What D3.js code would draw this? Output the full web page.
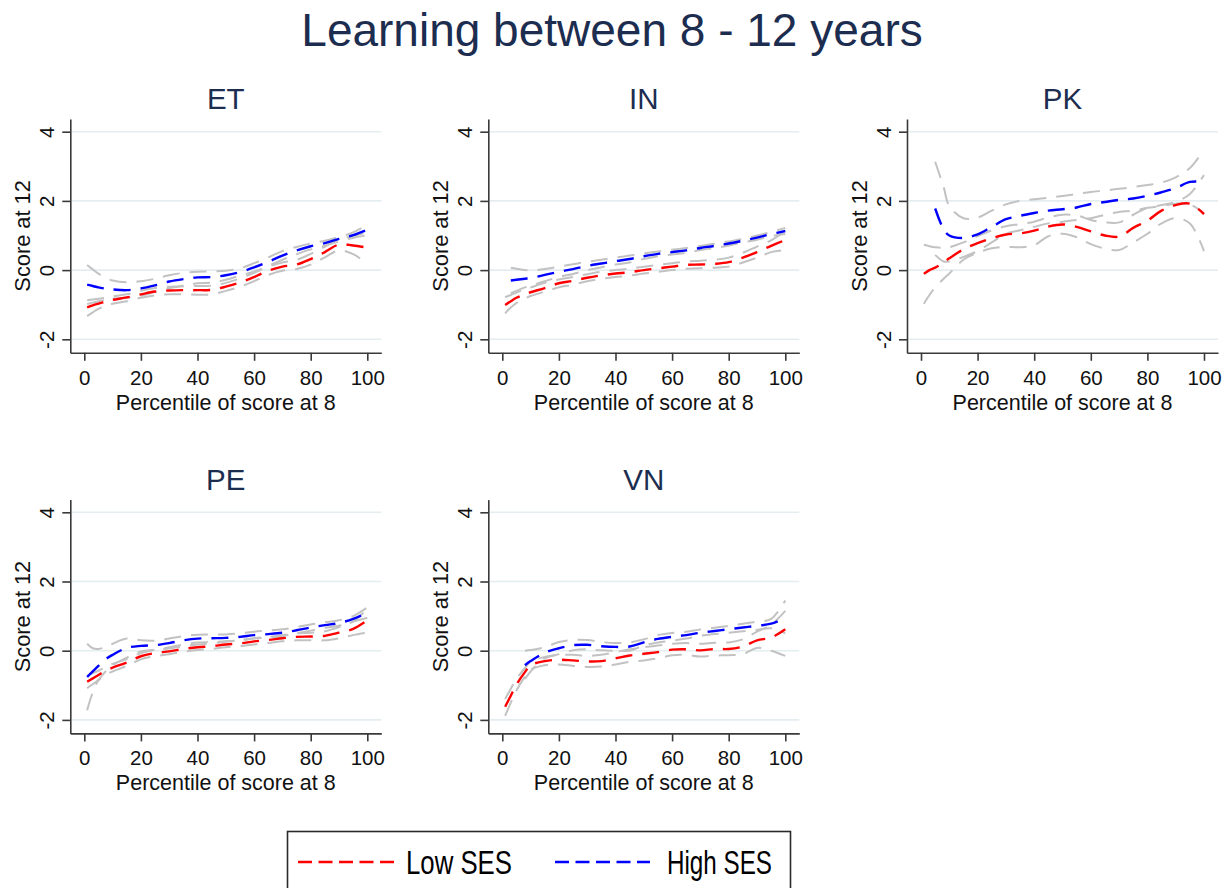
<!DOCTYPE html>
<html>
<head>
<meta charset="utf-8">
<script src="https://cdn.jsdelivr.net/npm/d3@7"></script>
<style>
  body { margin: 0; background: #fff; }
  svg { display: block; }
</style>
</head>
<body>
<svg id="chart" width="1231" height="888"></svg>
<script>
// Percentile of score at age 8 at which each fitted curve is evaluated
const percentiles = [1, 3, 5, 8, 10, 15, 20, 25, 30, 35, 40, 45, 50, 55, 60, 65, 70, 75, 80, 85, 90, 95, 100];

// Ethiopia
const etHigh   = [-0.42, -0.46, -0.50, -0.54, -0.56, -0.58, -0.53, -0.44, -0.33, -0.26, -0.21, -0.20, -0.15, -0.06, 0.08, 0.24, 0.42, 0.57, 0.69, 0.78, 0.90, 1.01, 1.17];
const etHighHi = [0.15, 0.02, -0.10, -0.24, -0.30, -0.35, -0.32, -0.25, -0.15, -0.08, -0.05, -0.04, -0.02, 0.05, 0.20, 0.37, 0.55, 0.67, 0.77, 0.85, 0.96, 1.09, 1.32];
const etHighLo = [-0.98, -0.94, -0.90, -0.85, -0.82, -0.80, -0.74, -0.63, -0.52, -0.45, -0.38, -0.36, -0.28, -0.16, -0.04, 0.12, 0.30, 0.46, 0.60, 0.70, 0.83, 0.93, 1.01];
const etLow    = [-1.08, -1.02, -0.97, -0.90, -0.86, -0.79, -0.70, -0.62, -0.59, -0.58, -0.58, -0.57, -0.48, -0.36, -0.20, -0.02, 0.10, 0.16, 0.32, 0.52, 0.74, 0.71, 0.65];
const etLowHi  = [-0.87, -0.85, -0.83, -0.79, -0.76, -0.70, -0.60, -0.52, -0.48, -0.47, -0.46, -0.45, -0.37, -0.24, -0.08, 0.10, 0.22, 0.30, 0.47, 0.68, 0.90, 0.98, 1.10];
const etLowLo  = [-1.33, -1.22, -1.12, -1.02, -0.97, -0.90, -0.80, -0.73, -0.70, -0.70, -0.71, -0.70, -0.60, -0.48, -0.32, -0.14, -0.02, 0.03, 0.16, 0.37, 0.57, 0.46, 0.18];

// India
const inHigh   = [null, -0.30, -0.28, -0.25, -0.23, -0.14, -0.05, 0.03, 0.12, 0.19, 0.26, 0.32, 0.40, 0.47, 0.52, 0.57, 0.64, 0.70, 0.77, 0.85, 0.94, 1.04, 1.13];
const inHighHi = [null, 0.07, 0.04, 0.00, -0.01, 0.03, 0.10, 0.17, 0.24, 0.30, 0.36, 0.42, 0.48, 0.54, 0.59, 0.64, 0.70, 0.76, 0.83, 0.90, 1.00, 1.10, 1.22];
const inHighLo = [null, -0.67, -0.60, -0.50, -0.45, -0.32, -0.20, -0.11, 0.00, 0.08, 0.16, 0.22, 0.32, 0.40, 0.45, 0.50, 0.58, 0.64, 0.71, 0.80, 0.88, 0.98, 1.04];
const inLow    = [-1.01, -0.90, -0.80, -0.70, -0.64, -0.52, -0.38, -0.31, -0.22, -0.15, -0.10, -0.06, 0.00, 0.05, 0.10, 0.15, 0.16, 0.18, 0.23, 0.36, 0.52, 0.70, 0.87];
const inLowHi  = [-0.78, -0.72, -0.65, -0.55, -0.50, -0.37, -0.27, -0.20, -0.12, -0.05, 0.00, 0.04, 0.10, 0.15, 0.20, 0.25, 0.27, 0.30, 0.36, 0.50, 0.68, 0.86, 1.12];
const inLowLo  = [-1.25, -1.08, -0.95, -0.82, -0.75, -0.62, -0.50, -0.42, -0.32, -0.25, -0.20, -0.16, -0.10, -0.05, 0.00, 0.04, 0.05, 0.07, 0.10, 0.22, 0.36, 0.52, 0.58];

// Pakistan
const pkHigh   = [null, null, 1.78, 1.18, 1.00, 0.93, 1.03, 1.25, 1.47, 1.57, 1.65, 1.72, 1.76, 1.81, 1.91, 1.97, 2.03, 2.07, 2.15, 2.25, 2.37, 2.55, 2.55];
const pkHighHi = [null, null, 3.13, 2.40, 1.85, 1.50, 1.52, 1.72, 1.90, 2.00, 2.05, 2.09, 2.14, 2.20, 2.26, 2.30, 2.35, 2.40, 2.46, 2.53, 2.68, 2.95, 3.48];
const pkHighLo = [null, null, 0.44, 0.25, 0.25, 0.38, 0.55, 0.80, 1.05, 1.15, 1.25, 1.35, 1.40, 1.45, 1.50, 1.60, 1.68, 1.72, 1.80, 1.85, 1.92, 1.90, 1.65];
const pkLow    = [-0.11, 0.00, 0.07, 0.22, 0.34, 0.60, 0.78, 0.92, 1.03, 1.06, 1.14, 1.26, 1.32, 1.25, 1.12, 1.00, 0.97, 1.22, 1.43, 1.72, 1.88, 1.92, 1.62];
const pkLowHi  = [0.73, 0.69, 0.66, 0.64, 0.66, 0.80, 0.98, 1.15, 1.27, 1.33, 1.40, 1.52, 1.60, 1.58, 1.45, 1.38, 1.38, 1.60, 1.80, 1.88, 1.97, 2.20, 2.75];
const pkLowLo  = [-0.97, -0.72, -0.50, -0.25, -0.10, 0.30, 0.50, 0.63, 0.67, 0.66, 0.72, 0.98, 1.05, 0.95, 0.75, 0.62, 0.58, 0.80, 1.05, 1.35, 1.50, 1.35, 0.55];

// Peru
const peHigh   = [-0.76, -0.60, -0.44, -0.22, -0.12, 0.08, 0.14, 0.16, 0.22, 0.30, 0.35, 0.36, 0.37, 0.40, 0.45, 0.48, 0.52, 0.59, 0.67, 0.74, 0.80, 0.92, 1.10];
const peHighHi = [0.20, 0.07, 0.05, 0.12, 0.20, 0.35, 0.30, 0.29, 0.35, 0.42, 0.46, 0.47, 0.47, 0.50, 0.55, 0.58, 0.62, 0.68, 0.76, 0.82, 0.88, 1.00, 1.25];
const peHighLo = [-1.72, -1.20, -0.85, -0.56, -0.42, -0.20, -0.02, 0.03, 0.10, 0.18, 0.24, 0.25, 0.27, 0.30, 0.35, 0.38, 0.42, 0.50, 0.58, 0.66, 0.72, 0.84, 0.95];
const peLow    = [-0.90, -0.80, -0.70, -0.56, -0.49, -0.34, -0.16, -0.07, -0.02, 0.05, 0.10, 0.13, 0.18, 0.21, 0.27, 0.31, 0.36, 0.40, 0.41, 0.43, 0.52, 0.63, 0.88];
const peLowHi  = [-0.72, -0.65, -0.58, -0.45, -0.38, -0.24, -0.07, 0.02, 0.06, 0.13, 0.18, 0.21, 0.26, 0.30, 0.36, 0.40, 0.45, 0.50, 0.52, 0.56, 0.68, 0.85, 1.20];
const peLowLo  = [-1.08, -0.97, -0.85, -0.68, -0.60, -0.44, -0.25, -0.16, -0.10, -0.03, 0.02, 0.05, 0.10, 0.13, 0.18, 0.22, 0.27, 0.30, 0.30, 0.30, 0.36, 0.45, 0.52];

// Vietnam
const vnHigh   = [null, null, null, -0.42, -0.30, -0.06, 0.07, 0.16, 0.17, 0.13, 0.11, 0.12, 0.24, 0.34, 0.40, 0.45, 0.52, 0.57, 0.62, 0.67, 0.72, 0.78, 0.94];
const vnHighHi = [null, null, null, 0.00, 0.02, 0.10, 0.25, 0.31, 0.31, 0.25, 0.22, 0.24, 0.33, 0.45, 0.51, 0.55, 0.61, 0.66, 0.72, 0.78, 0.84, 0.92, 1.45];
const vnHighLo = [null, null, null, -0.82, -0.60, -0.22, -0.10, 0.01, 0.04, 0.01, 0.00, 0.00, 0.15, 0.24, 0.29, 0.35, 0.43, 0.48, 0.52, 0.56, 0.60, 0.65, 0.50];
const vnLow    = [-1.62, -1.30, -0.98, -0.62, -0.42, -0.30, -0.26, -0.28, -0.31, -0.30, -0.22, -0.14, -0.09, -0.04, 0.03, 0.04, 0.01, 0.05, 0.05, 0.12, 0.30, 0.38, 0.62];
const vnLowHi  = [-1.40, -1.10, -0.82, -0.50, -0.32, -0.18, -0.12, -0.12, -0.15, -0.12, -0.04, 0.04, 0.10, 0.15, 0.20, 0.22, 0.20, 0.23, 0.24, 0.33, 0.55, 0.75, 1.15];
const vnLowLo  = [-1.88, -1.50, -1.15, -0.75, -0.55, -0.42, -0.40, -0.44, -0.47, -0.46, -0.40, -0.32, -0.28, -0.22, -0.13, -0.12, -0.17, -0.14, -0.13, -0.10, 0.08, 0.00, -0.15];

const yTickValues = [-2, 0, 2, 4];
const xTickValues = [0, 20, 40, 60, 80, 100];
const legendLabels = ["Low SES", "High SES"];

const panels = [
  { code: "ET", high: etHigh, highHi: etHighHi, highLo: etHighLo, low: etLow, lowHi: etLowHi, lowLo: etLowLo },
  { code: "IN", high: inHigh, highHi: inHighHi, highLo: inHighLo, low: inLow, lowHi: inLowHi, lowLo: inLowLo },
  { code: "PK", high: pkHigh, highHi: pkHighHi, highLo: pkHighLo, low: pkLow, lowHi: pkLowHi, lowLo: pkLowLo },
  { code: "PE", high: peHigh, highHi: peHighHi, highLo: peHighLo, low: peLow, lowHi: peLowHi, lowLo: peLowLo },
  { code: "VN", high: vnHigh, highHi: vnHighHi, highLo: vnHighLo, low: vnLow, lowHi: vnLowHi, lowLo: vnLowLo }
];

// ---- layout & style ----
const FONT = "'Liberation Sans', Arial, Helvetica, sans-serif";
const TITLE_COLOR = "#1c2d50";
const AXIS_COLOR = "#3a3a3a";
const GRID_COLOR = "#e4edf0";
const RED = "#ff0000", BLUE = "#0000ff", GREY = "#c2c2c2";
const DASH = "17,10";

const colX0 = [84.3, 502.3, 921];   // pixel where percentile 0 sits in each column
const rowY4 = [131.7, 512.3];       // pixel where score 4 sits in each row
const plotW = 283, plotH = 207.6;

const svg = d3.select("#chart");
svg.append("rect").attr("width", 1231).attr("height", 888).attr("fill", "#fff");

svg.append("text")
  .attr("x", 612).attr("y", 46)
  .attr("text-anchor", "middle")
  .attr("font-family", FONT).attr("font-size", 46)
  .attr("fill", TITLE_COLOR)
  .text("Learning between 8 - 12 years");

panels.forEach((pn, i) => {
  const col = i % 3, row = Math.floor(i / 3);
  const x = d3.scaleLinear().domain([0, 100]).range([colX0[col], colX0[col] + plotW]);
  const y = d3.scaleLinear().domain([-2, 4]).range([rowY4[row] + plotH, rowY4[row]]);

  const left = x(0) - 14, right = x(100) + 14;
  const top = y(4) - 12.7, bottom = y(-2) + 13.5;
  const xFrame = x.copy().domain([x.invert(left), x.invert(right)]).range([left, right]);
  const yFrame = y.copy().domain([y.invert(bottom), y.invert(top)]).range([bottom, top]);

  const g = svg.append("g").attr("class", "panel-" + pn.code);

  // horizontal grid
  g.append("g").selectAll("line").data(yTickValues).join("line")
    .attr("x1", left + 1.5).attr("x2", right)
    .attr("y1", d => y(d)).attr("y2", d => y(d))
    .attr("stroke", GRID_COLOR).attr("stroke-width", 1.6);

  // curves: confidence bands first, then the two fitted lines
  const line = d3.line()
    .defined(d => d[1] != null)
    .x(d => x(d[0])).y(d => y(d[1]))
    .curve(d3.curveCatmullRom.alpha(0.5));
  const series = [
    { v: pn.highHi, c: GREY, w: 2 },
    { v: pn.highLo, c: GREY, w: 2 },
    { v: pn.lowHi, c: GREY, w: 2 },
    { v: pn.lowLo, c: GREY, w: 2 },
    { v: pn.low, c: RED, w: 2.4 },
    { v: pn.high, c: BLUE, w: 2.4 }
  ];
  g.append("g").selectAll("path").data(series).join("path")
    .attr("d", s => line(percentiles.map((p, j) => [p, s.v[j]])))
    .attr("fill", "none")
    .attr("stroke", s => s.c)
    .attr("stroke-width", s => s.w)
    .attr("stroke-dasharray", DASH);

  // y axis
  const ya = g.append("g")
    .attr("transform", `translate(${left},0)`)
    .call(d3.axisLeft(yFrame).tickValues(yTickValues).tickSize(8).tickSizeOuter(0).tickFormat(d => String(d)));
  ya.selectAll("text")
    .attr("x", null).attr("dy", null)
    .attr("transform", "translate(-16.5,0) rotate(-90)")
    .attr("text-anchor", "middle");

  // x axis
  const xa = g.append("g")
    .attr("transform", `translate(0,${bottom})`)
    .call(d3.axisBottom(xFrame).tickValues(xTickValues).tickSize(8).tickSizeOuter(0).tickFormat(d => String(d)));
  xa.selectAll("text").attr("y", 32).attr("dy", null);

  [ya, xa].forEach(a => {
    a.select(".domain").attr("stroke", AXIS_COLOR).attr("stroke-width", 1.6);
    a.selectAll(".tick line").attr("stroke", AXIS_COLOR).attr("stroke-width", 1.6);
    a.selectAll("text").attr("font-family", FONT).attr("font-size", 20.5).attr("fill", "#111");
    a.attr("font-family", null).attr("font-size", null);
  });

  // titles
  g.append("text")
    .attr("x", (left + right) / 2).attr("y", top - 10)
    .attr("text-anchor", "middle")
    .attr("font-family", FONT).attr("font-size", 29.5)
    .attr("fill", TITLE_COLOR)
    .text(pn.code);

  g.append("text")
    .attr("x", (left + right) / 2).attr("y", bottom + 57)
    .attr("text-anchor", "middle")
    .attr("font-family", FONT).attr("font-size", 21.5)
    .attr("fill", "#111")
    .text("Percentile of score at 8");

  g.append("text")
    .attr("transform", `translate(${left - 40},${(top + bottom) / 2}) rotate(-90)`)
    .attr("text-anchor", "middle")
    .attr("font-family", FONT).attr("font-size", 21.8)
    .attr("fill", "#111")
    .text("Score at 12");
});

// legend (condensed lettering, so each label is squeezed to its set width)
const lg = svg.append("g").attr("class", "legend");
lg.append("rect")
  .attr("x", 287.5).attr("y", 831.5).attr("width", 503).attr("height", 80)
  .attr("fill", "#fff").attr("stroke", "#2a2a2a").attr("stroke-width", 1.6);
const legendItems = [
  { label: legendLabels[0], c: RED, x1: 298, x2: 395, tx: 406, tw: 106 },
  { label: legendLabels[1], c: BLUE, x1: 555, x2: 650, tx: 667, tw: 105 }
];
legendItems.forEach(it => {
  lg.append("line")
    .attr("x1", it.x1).attr("x2", it.x2).attr("y1", 862).attr("y2", 862)
    .attr("stroke", it.c).attr("stroke-width", 2.6).attr("stroke-dasharray", "14,6.5");
  lg.append("text")
    .attr("x", it.tx).attr("y", 873.5)
    .attr("font-family", FONT).attr("font-size", 32.5)
    .attr("textLength", it.tw).attr("lengthAdjust", "spacingAndGlyphs")
    .attr("fill", "#000")
    .text(it.label);
});
</script>
</body>
</html>
